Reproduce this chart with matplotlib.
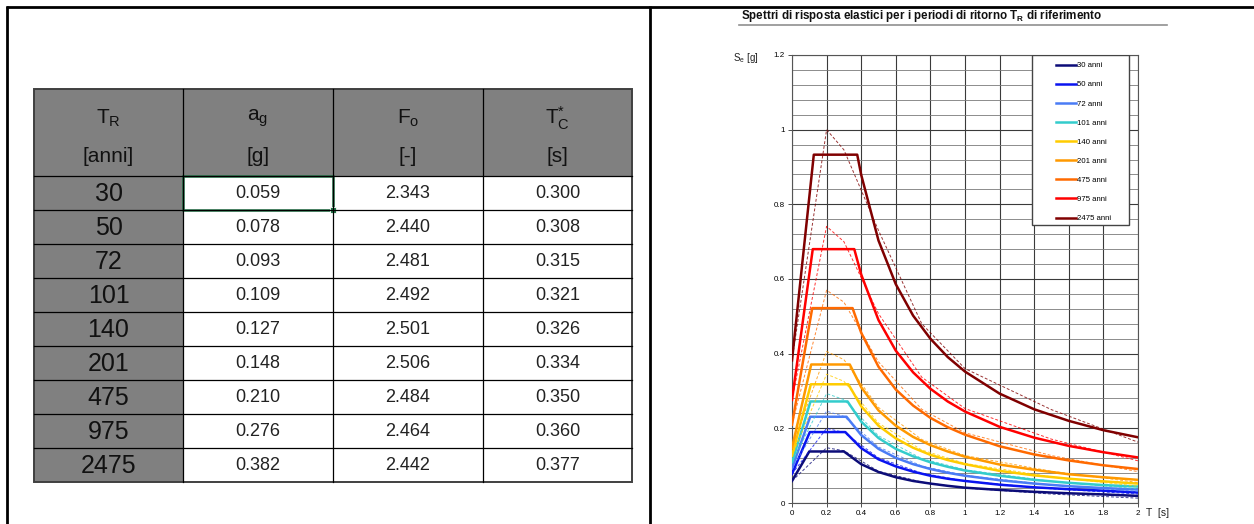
import matplotlib.pyplot as plt
from matplotlib.patches import Rectangle
from matplotlib.lines import Line2D
from matplotlib.ticker import MultipleLocator, FuncFormatter

plt.rcParams['font.family'] = ['Liberation Sans', 'DejaVu Sans']
plt.rcParams['mathtext.fontset'] = 'custom'
plt.rcParams['mathtext.rm'] = 'Liberation Sans'
plt.rcParams['mathtext.it'] = 'Liberation Sans'

# --- dati tabella ---
tr = [30, 50, 72, 101, 140, 201, 475, 975, 2475]
ag = [0.059, 0.078, 0.093, 0.109, 0.127, 0.148, 0.210, 0.276, 0.382]
fo = [2.343, 2.440, 2.481, 2.492, 2.501, 2.506, 2.484, 2.464, 2.442]
tc = [0.300, 0.308, 0.315, 0.321, 0.326, 0.334, 0.350, 0.360, 0.377]

# --- spettri elastici (linee continue) ---
t_coda = [0.4, 0.5, 0.6, 0.7, 0.8, 0.9, 1.0, 1.2, 1.4, 1.6, 1.8, 2.0]
t_testa = [
    [0, 0.100, 0.300],
    [0, 0.103, 0.308],
    [0, 0.105, 0.315],
    [0, 0.107, 0.321],
    [0, 0.109, 0.326],
    [0, 0.111, 0.334],
    [0, 0.117, 0.350],
    [0, 0.120, 0.360],
    [0, 0.126, 0.377],
]
se_30 = [.059, .138, .138, .104, .083, .069, .059, .052, .046, .041, .035, .030, .026, .023, .019]
se_50 = [.078, .190, .190, .147, .117, .098, .084, .073, .065, .059, .049, .042, .037, .033, .028]
se_72 = [.093, .231, .231, .182, .145, .121, .104, .091, .081, .073, .061, .052, .045, .040, .036]
se_101 = [.109, .272, .272, .218, .174, .145, .125, .109, .097, .087, .073, .062, .054, .048, .044]
se_140 = [.127, .318, .318, .259, .207, .173, .148, .129, .115, .104, .086, .074, .065, .058, .052]
se_201 = [.148, .371, .371, .310, .248, .207, .177, .155, .138, .124, .103, .089, .077, .069, .062]
se_475 = [.210, .522, .522, .456, .365, .304, .261, .228, .203, .183, .152, .130, .114, .101, .091]
se_975 = [.276, .680, .680, .612, .490, .408, .350, .306, .272, .245, .204, .175, .153, .136, .122]
se_2475 = [.382, .933, .933, .879, .703, .586, .502, .440, .391, .352, .293, .251, .220, .195, .176]
se_solidi = [se_30, se_50, se_72, se_101, se_140, se_201, se_475, se_975, se_2475]

# --- spettri a pericolosita' uniforme (tratteggiati) ---
t_uhs = [0, 0.2, 0.3, 0.5, 0.75, 1.0, 1.5, 2.0]
uhs_30 = [.059, .148, .140, .085, .056, .040, .024, .013]
uhs_50 = [.078, .200, .189, .121, .080, .059, .038, .024]
uhs_72 = [.093, .246, .232, .150, .099, .074, .048, .031]
uhs_101 = [.109, .293, .277, .180, .119, .089, .058, .038]
uhs_140 = [.127, .345, .326, .214, .142, .106, .070, .045]
uhs_201 = [.148, .406, .384, .256, .170, .127, .085, .055]
uhs_475 = [.210, .570, .538, .378, .251, .188, .127, .084]
uhs_975 = [.276, .741, .700, .507, .337, .253, .171, .113]
uhs_2475 = [.382, 1.000, .946, .730, .480, .360, .250, .163]
uhs = [uhs_30, uhs_50, uhs_72, uhs_101, uhs_140, uhs_201, uhs_475, uhs_975, uhs_2475]

colori = ['#0c0c78', '#0a14f0', '#4a7cf5', '#33cccc', '#ffcc00',
          '#ff9900', '#ff6a00', '#ff0000', '#800000']

W, H = 1254, 524
fig = plt.figure(figsize=(W / 100, H / 100), dpi=100)

# sfondo in coordinate pixel
bg = fig.add_axes([0, 0, 1, 1])
bg.set_xlim(0, W)
bg.set_ylim(H, 0)
bg.axis('off')

# cornici nere
bg.plot([6, W], [7, 7], color='black', lw=2.0, solid_capstyle='butt')
bg.plot([7, 7], [6, H], color='black', lw=2.0, solid_capstyle='butt')
bg.plot([650, 650], [6, H], color='black', lw=2.0, solid_capstyle='butt')

# tabella
col_x = [34, 183, 333, 483, 632]
y_head, y_body, row_h = 89, 176, 34
grigio = '#808080'
bg.add_patch(Rectangle((col_x[0], y_head), col_x[-1] - col_x[0], y_body - y_head,
                       facecolor=grigio, edgecolor='none'))
bg.add_patch(Rectangle((col_x[0], y_body), col_x[1] - col_x[0], row_h * len(tr),
                       facecolor=grigio, edgecolor='none'))
y_end = y_body + row_h * len(tr)
for x in col_x[1:-1]:
    bg.plot([x, x], [y_head, y_end], color='black', lw=0.9)
for i in range(len(tr)):
    y = y_body + row_h * i
    bg.plot([col_x[0], col_x[-1]], [y, y], color='black', lw=0.9)
bg.add_patch(Rectangle((col_x[0], y_head), col_x[-1] - col_x[0], y_end - y_head,
                       facecolor='none', edgecolor='#404040', lw=1.4))

intest1 = [r'T$_\mathregular{R}$', r'a$_\mathregular{g}$', r'F$_\mathregular{o}$',
           r'T$_\mathregular{C}^{\mathregular{*}}$']
intest2 = ['[anni]', '[g]', '[-]', '[s]']
for j in range(4):
    cx = (col_x[j] + col_x[j + 1]) / 2
    bg.text(cx, 118, intest1[j], ha='center', va='center', fontsize=15, color='#111111')
    bg.text(cx, 157, intest2[j], ha='center', va='center', fontsize=15, color='#111111')

for i in range(len(tr)):
    cy = y_body + row_h * i + row_h / 2
    bg.text((col_x[0] + col_x[1]) / 2, cy + 1, str(tr[i]), ha='center', va='center',
            fontsize=18, color='#111111')
    for j, v in enumerate([ag[i], fo[i], tc[i]]):
        cx = (col_x[j + 1] + col_x[j + 2]) / 2
        bg.text(cx, cy + 1, '%.3f' % v, ha='center', va='center', fontsize=13,
                color='#222222')

# cella selezionata (Excel)
bg.add_patch(Rectangle((col_x[1], y_body), col_x[2] - col_x[1], row_h,
                       facecolor='none', edgecolor='#217346', lw=1.8))
bg.add_patch(Rectangle((col_x[2] - 3, y_body + row_h - 3), 6, 6,
                       facecolor='#217346', edgecolor='white', lw=0.6))

# titolo grafico
bg.text(741, 16, r'Spettri di risposta elastici per i periodi di ritorno T$_\mathregular{R}$ di riferimento',
        ha='left', va='center', fontsize=8.4, fontweight='bold', color='#111111')
bg.plot([739, 1167], [24.5, 24.5], color='#909090', lw=1.2)
bg.text(733, 58, r'S$_\mathregular{e}$ [g]', ha='left', va='center', fontsize=7, color='#222222')
bg.text(1146, 513, 'T  [s]', ha='left', va='center', fontsize=7.5, color='#222222')

# grafico
ax = fig.add_axes([792 / W, (H - 503) / H, (1138 - 792) / W, (503 - 55) / H])
ax.set_xlim(0, 2)
ax.set_ylim(0, 1.2)
ax.xaxis.set_major_locator(MultipleLocator(0.2))
ax.yaxis.set_major_locator(MultipleLocator(0.2))
ax.yaxis.set_minor_locator(MultipleLocator(0.04))
fmt = FuncFormatter(lambda v, p: '%g' % round(v, 2))
ax.xaxis.set_major_formatter(fmt)
ax.yaxis.set_major_formatter(fmt)
ax.grid(which='major', color='#3a3a3a', lw=0.8)
ax.grid(which='minor', axis='y', color='#7a7a7a', lw=0.6)
ax.set_axisbelow(True)
ax.tick_params(which='major', labelsize=5.8, length=3, width=0.6, pad=2, color='#333333')
ax.tick_params(which='minor', length=0)
for s in ax.spines.values():
    s.set_color('#555555')
    s.set_linewidth(0.8)

for k in range(len(tr)):
    ax.plot(t_testa[k] + t_coda, se_solidi[k], color=colori[k], lw=1.8, zorder=3)
    ax.plot(t_uhs, uhs[k], color=colori[k], lw=0.7, ls=(0, (3, 2)), alpha=0.8, zorder=4)

# legenda
ax.add_patch(Rectangle((1.386, 0.745), 0.561, 0.455, transform=ax.transData,
                       facecolor='white', edgecolor='#444444', lw=1.0, zorder=5))
maniglie = [Line2D([], [], color=c, lw=1.8) for c in colori]
etichette = ['%d anni' % t for t in tr]
leg = ax.legend(maniglie, etichette, loc='upper left', bbox_to_anchor=(1052 / W, 1 - 58 / H),
                bbox_transform=fig.transFigure, frameon=False, fontsize=5.6,
                handlelength=2.6, handletextpad=0.15, labelspacing=1.5, borderpad=0)
leg.set_zorder(6)

fig.savefig('out.png', dpi=100)
